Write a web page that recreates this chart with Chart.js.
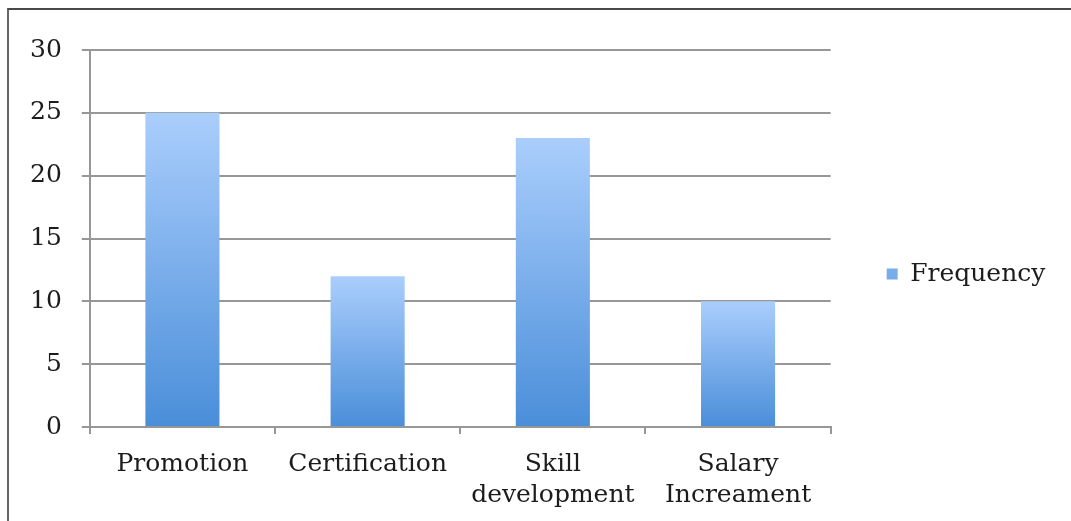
<!DOCTYPE html>
<html>
<head>
<meta charset="utf-8">
<script src="https://cdn.jsdelivr.net/npm/chart.js@4/dist/chart.umd.min.js"></script>
<style>
  body { margin: 0; background: #fff; }
  #frame {
    position: absolute; left: 7px; top: 8px; width: 1064px; height: 513px;
    border-top: 2px solid #4a4a4a; border-left: 2px solid #666;
    box-sizing: border-box;
  }
  #wrap { position: absolute; left: 0; top: 0; width: 1071px; height: 521px; }
</style>
</head>
<body>
<div id="frame"></div>
<div id="wrap"><canvas id="freqChart"></canvas></div>
<script>
// data
const categories = ["Promotion", "Certification", ["Skill", "development"], ["Salary", "Increament"]];
const frequency = [25, 12, 23, 10];
const seriesName = "Frequency";
const yMin = 0, yMax = 30, yStep = 5;

const labelFont = { family: "'DejaVu Serif', serif", size: 25, lineHeight: 1.25 };
const textColor = '#1c1c1c';
const gridGrey = '#979797';

// each bar gets its own light-to-dark gradient
function barFill(ctx) {
    const chart = ctx.chart;
    if (!chart.chartArea || ctx.dataIndex === undefined) return '#72a8ea';
    const y = chart.scales.y;
    const top = y.getPixelForValue(ctx.raw);
    const bottom = y.getPixelForValue(0);
    const g = chart.ctx.createLinearGradient(0, top, 0, bottom);
    g.addColorStop(0, '#aacefc');
    g.addColorStop(1, '#4a8ed9');
    return g;
}

var freqCtx = document.getElementById('freqChart').getContext('2d');
var freqChart = new Chart(freqCtx, {
    type: 'bar',
    data: {
        labels: categories,
        datasets: [{
            label: seriesName,
            data: frequency,
            backgroundColor: barFill,
            borderWidth: 0,
            categoryPercentage: 1.0,
            barPercentage: 0.4
        }]
    },
    options: {
        responsive: true,
        maintainAspectRatio: false,
        animation: false,
        layout: { padding: { left: 10, top: 50, bottom: 9, right: 21 } },
        plugins: {
            tooltip: { enabled: false },
            legend: {
                position: 'right',
                fullSize: false,
                // empty title just pushes the entry down a bit
                title: { display: true, text: '', font: { size: 1, lineHeight: 1 }, padding: { top: 70, bottom: 0 } },
                labels: {
                    boxWidth: 11,
                    boxHeight: 11,
                    padding: 10,
                    color: textColor,
                    font: labelFont
                }
            }
        },
        scales: {
            x: {
                grid: { drawOnChartArea: false, drawTicks: true, tickLength: 7, color: gridGrey, lineWidth: 2 },
                border: { color: gridGrey, width: 2 },
                ticks: { color: textColor, font: labelFont, padding: 15, maxRotation: 0, autoSkip: false },
                afterFit: function (scale) { scale.height = 85; }
            },
            y: {
                min: yMin,
                max: yMax,
                grid: { color: gridGrey, lineWidth: 2, tickLength: 8 },
                border: { color: gridGrey, width: 2 },
                ticks: { stepSize: yStep, color: textColor, font: labelFont, padding: 20 }
            },
            // spacer between plot and legend
            gap: {
                position: 'right',
                display: true,
                grid: { display: false },
                border: { display: false },
                ticks: { display: false },
                afterFit: function (scale) { scale.width = 46; }
            }
        }
    }
});
</script>
</body>
</html>
